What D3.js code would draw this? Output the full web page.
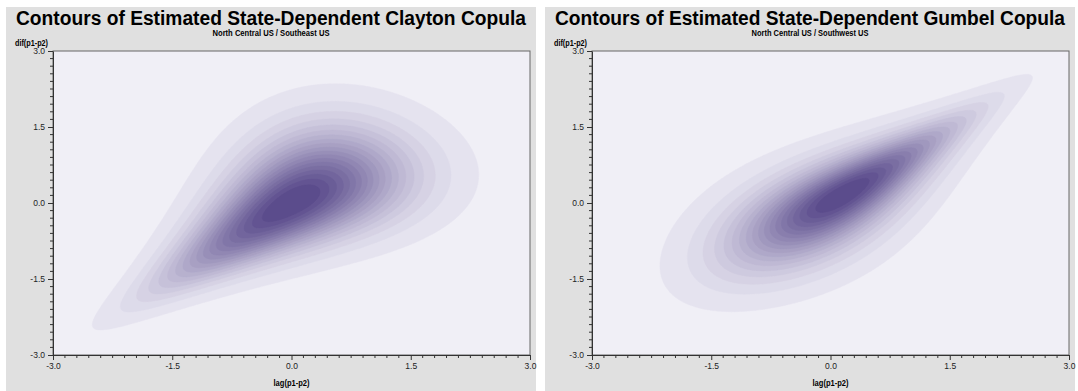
<!DOCTYPE html>
<html>
<head>
<meta charset="utf-8">
<script src="https://cdn.jsdelivr.net/npm/d3@7"></script>
<style>
body { margin: 0; background: #fff; }
svg text { font-family: "Liberation Sans", Arial, sans-serif; }
</style>
</head>
<body>
<div id="chart"></div>
<script>
const width = 1078
const height = 391

// panel texts
const titles = ["Contours of Estimated State-Dependent Clayton Copula", "Contours of Estimated State-Dependent Gumbel Copula"]
const subtitles = ["North Central US / Southeast US", "North Central US / Southwest US"]
const xLabel = "lag(p1-p2)"
const yLabel = "dif(p1-p2)"

// estimated copula + normal margins for each panel
const families = ["clayton", "gumbel"]
const thetas = [1.25, 2.05]
const xMeans = [0.05, 0.05]
const yMeans = [0.05, 0.05]
const xSds = [0.87, 0.86]
const ySds = [0.87, 0.86]

// contour levels as share of peak density
const levels = [0.03, 0.08, 0.13, 0.18, 0.23, 0.28, 0.33, 0.38, 0.43, 0.48,
                0.53, 0.58, 0.63, 0.68, 0.73, 0.78, 0.83, 0.88, 0.93]

const majorTicks = [-3.0, -1.5, 0.0, 1.5, 3.0]
const minorPerMajor = 10

const panelX = [6, 545]
const panelY = 7
const panelW = 530
const margin = { left: 47, top: 44, right: 6, bottom: 36 }
const plotW = 477
const plotH = 304

const svg = d3.select("#chart").append("svg")
    .attr("width", width).attr("height", height)

// normal helpers
function erf(x) {
    const s = x < 0 ? -1 : 1
    x = Math.abs(x)
    const t = 1 / (1 + 0.3275911 * x)
    const y = 1 - (((((1.061405429 * t - 1.453152027) * t) + 1.421413741) * t - 0.284496736) * t + 0.254829592) * t * Math.exp(-x * x)
    return s * y
}
const pnorm = z => 0.5 * (1 + erf(z / Math.SQRT2))
const lnDnorm = z => -0.5 * z * z - 0.5 * Math.log(2 * Math.PI)

function logCopula(fam, th, u, v) {
    const lu = Math.log(u), lv = Math.log(v)
    if (fam == "clayton") {
        return Math.log(1 + th) + (-1 - th) * (lu + lv)
            + (-1 / th - 2) * Math.log(Math.pow(u, -th) + Math.pow(v, -th) - 1)
    }
    const a = -lu, b = -lv
    const s = Math.pow(a, th) + Math.pow(b, th)
    const A = Math.pow(s, 1 / th)
    return -A - lu - lv + (th - 1) * (Math.log(a) + Math.log(b))
        + (-2 + 1 / th) * Math.log(s) + Math.log(A + th - 1)
}

const nx = 320, ny = 220
const light = "#e5e3ef", dark = "#5b4c8c"

families.forEach((fam, k) => {
    const panel = svg.append("g").attr("transform", `translate(${panelX[k]}, ${panelY})`)
    panel.append("rect").attr("width", panelW).attr("height", height - panelY).attr("fill", "#e0e0e0")

    panel.append("text").text(titles[k])
        .attr("x", panelW / 2).attr("y", 18)
        .attr("text-anchor", "middle").attr("font-weight", "bold").attr("font-size", 20)
        .attr("textLength", 510).attr("lengthAdjust", "spacingAndGlyphs")
        .attr("fill", "#000")
    panel.append("text").text(subtitles[k])
        .attr("x", panelW / 2).attr("y", 28.5)
        .attr("text-anchor", "middle").attr("font-weight", "bold").attr("font-size", 9)
        .attr("textLength", 117).attr("lengthAdjust", "spacingAndGlyphs")
        .attr("fill", "#000")

    const g = panel.append("g").attr("transform", `translate(${margin.left}, ${margin.top})`)
    const x = d3.scaleLinear().domain([-3, 3]).range([0, plotW])
    const y = d3.scaleLinear().domain([-3, 3]).range([plotH, 0])

    g.append("rect").attr("width", plotW).attr("height", plotH).attr("fill", "#f0eff6")

    // density grid
    const values = new Array(nx * ny)
    for (let j = 0; j < ny; j++) {
        const yv = 3 - (j + 0.5) * 6 / ny
        const zy = (yv - yMeans[k]) / ySds[k]
        const v = pnorm(zy)
        for (let i = 0; i < nx; i++) {
            const xv = -3 + (i + 0.5) * 6 / nx
            const zx = (xv - xMeans[k]) / xSds[k]
            const u = pnorm(zx)
            const lc = logCopula(fam, thetas[k], u, v)
            values[i + j * nx] = Math.exp(lc + lnDnorm(zx) + lnDnorm(zy)) / (xSds[k] * ySds[k])
        }
    }
    const peak = d3.max(values)
    const color = d3.scaleLinear().domain([0, levels.length - 1]).range([light, dark]).interpolate(d3.interpolateRgb)

    const proj = d3.geoTransform({
        point: function(gx, gy) { this.stream.point(x(-3 + gx * 6 / nx), y(3 - gy * 6 / ny)) }
    })
    const path = d3.geoPath(proj)
    const contours = d3.contours().size([nx, ny]).thresholds(levels.map(l => l * peak))(values)

    const clipId = "clip" + k
    g.append("clipPath").attr("id", clipId).append("rect").attr("width", plotW).attr("height", plotH)
    g.append("g").attr("clip-path", `url(#${clipId})`)
        .selectAll("path")
        .data(contours)
        .join("path")
            .attr("d", path)
            .attr("fill", (d, i) => color(i))
            .attr("stroke", (d, i) => color(i))
            .attr("stroke-width", 0.4)

    // frame
    g.append("rect").attr("width", plotW).attr("height", plotH)
        .attr("fill", "none").attr("stroke", "#666").attr("stroke-width", 1)

    // axes
    const fmt = d => d.toFixed(1)
    const xAxis = d3.axisBottom(x).tickValues(majorTicks).tickSize(5).tickSizeOuter(0).tickPadding(3).tickFormat(fmt)
    const yAxis = d3.axisLeft(y).tickValues(majorTicks).tickSize(5).tickSizeOuter(0).tickPadding(3).tickFormat(fmt)
    const xg = g.append("g").attr("transform", `translate(0, ${plotH})`).call(xAxis)
    const yg = g.append("g").call(yAxis)
    const step = (majorTicks[1] - majorTicks[0]) / minorPerMajor
    const minor = d3.range(-3, 3 + 1e-9, step).filter(v => !majorTicks.some(m => Math.abs(m - v) < 1e-6))
    xg.selectAll("line.minor").data(minor).join("line").attr("class", "minor")
        .attr("x1", d => x(d)).attr("x2", d => x(d)).attr("y1", 0).attr("y2", 3)
    yg.selectAll("line.minor").data(minor).join("line").attr("class", "minor")
        .attr("y1", d => y(d)).attr("y2", d => y(d)).attr("x1", 0).attr("x2", -3)
    ;[xg, yg].forEach(a => {
        a.attr("font-size", 8.5).attr("font-family", null)
        a.selectAll("path.domain").attr("stroke", "#333")
        a.selectAll("line").attr("stroke", "#333")
        a.selectAll("text").attr("fill", "#222")
    })

    panel.append("text").text(xLabel)
        .attr("x", margin.left + plotW / 2).attr("y", 379)
        .attr("text-anchor", "middle").attr("font-weight", "bold").attr("font-size", 8.5)
        .attr("textLength", 36).attr("lengthAdjust", "spacingAndGlyphs")
    panel.append("text").text(yLabel)
        .attr("x", 9).attr("y", 38.5)
        .attr("font-weight", "bold").attr("font-size", 8.5)
        .attr("textLength", 33).attr("lengthAdjust", "spacingAndGlyphs")
})
</script>
</body>
</html>
